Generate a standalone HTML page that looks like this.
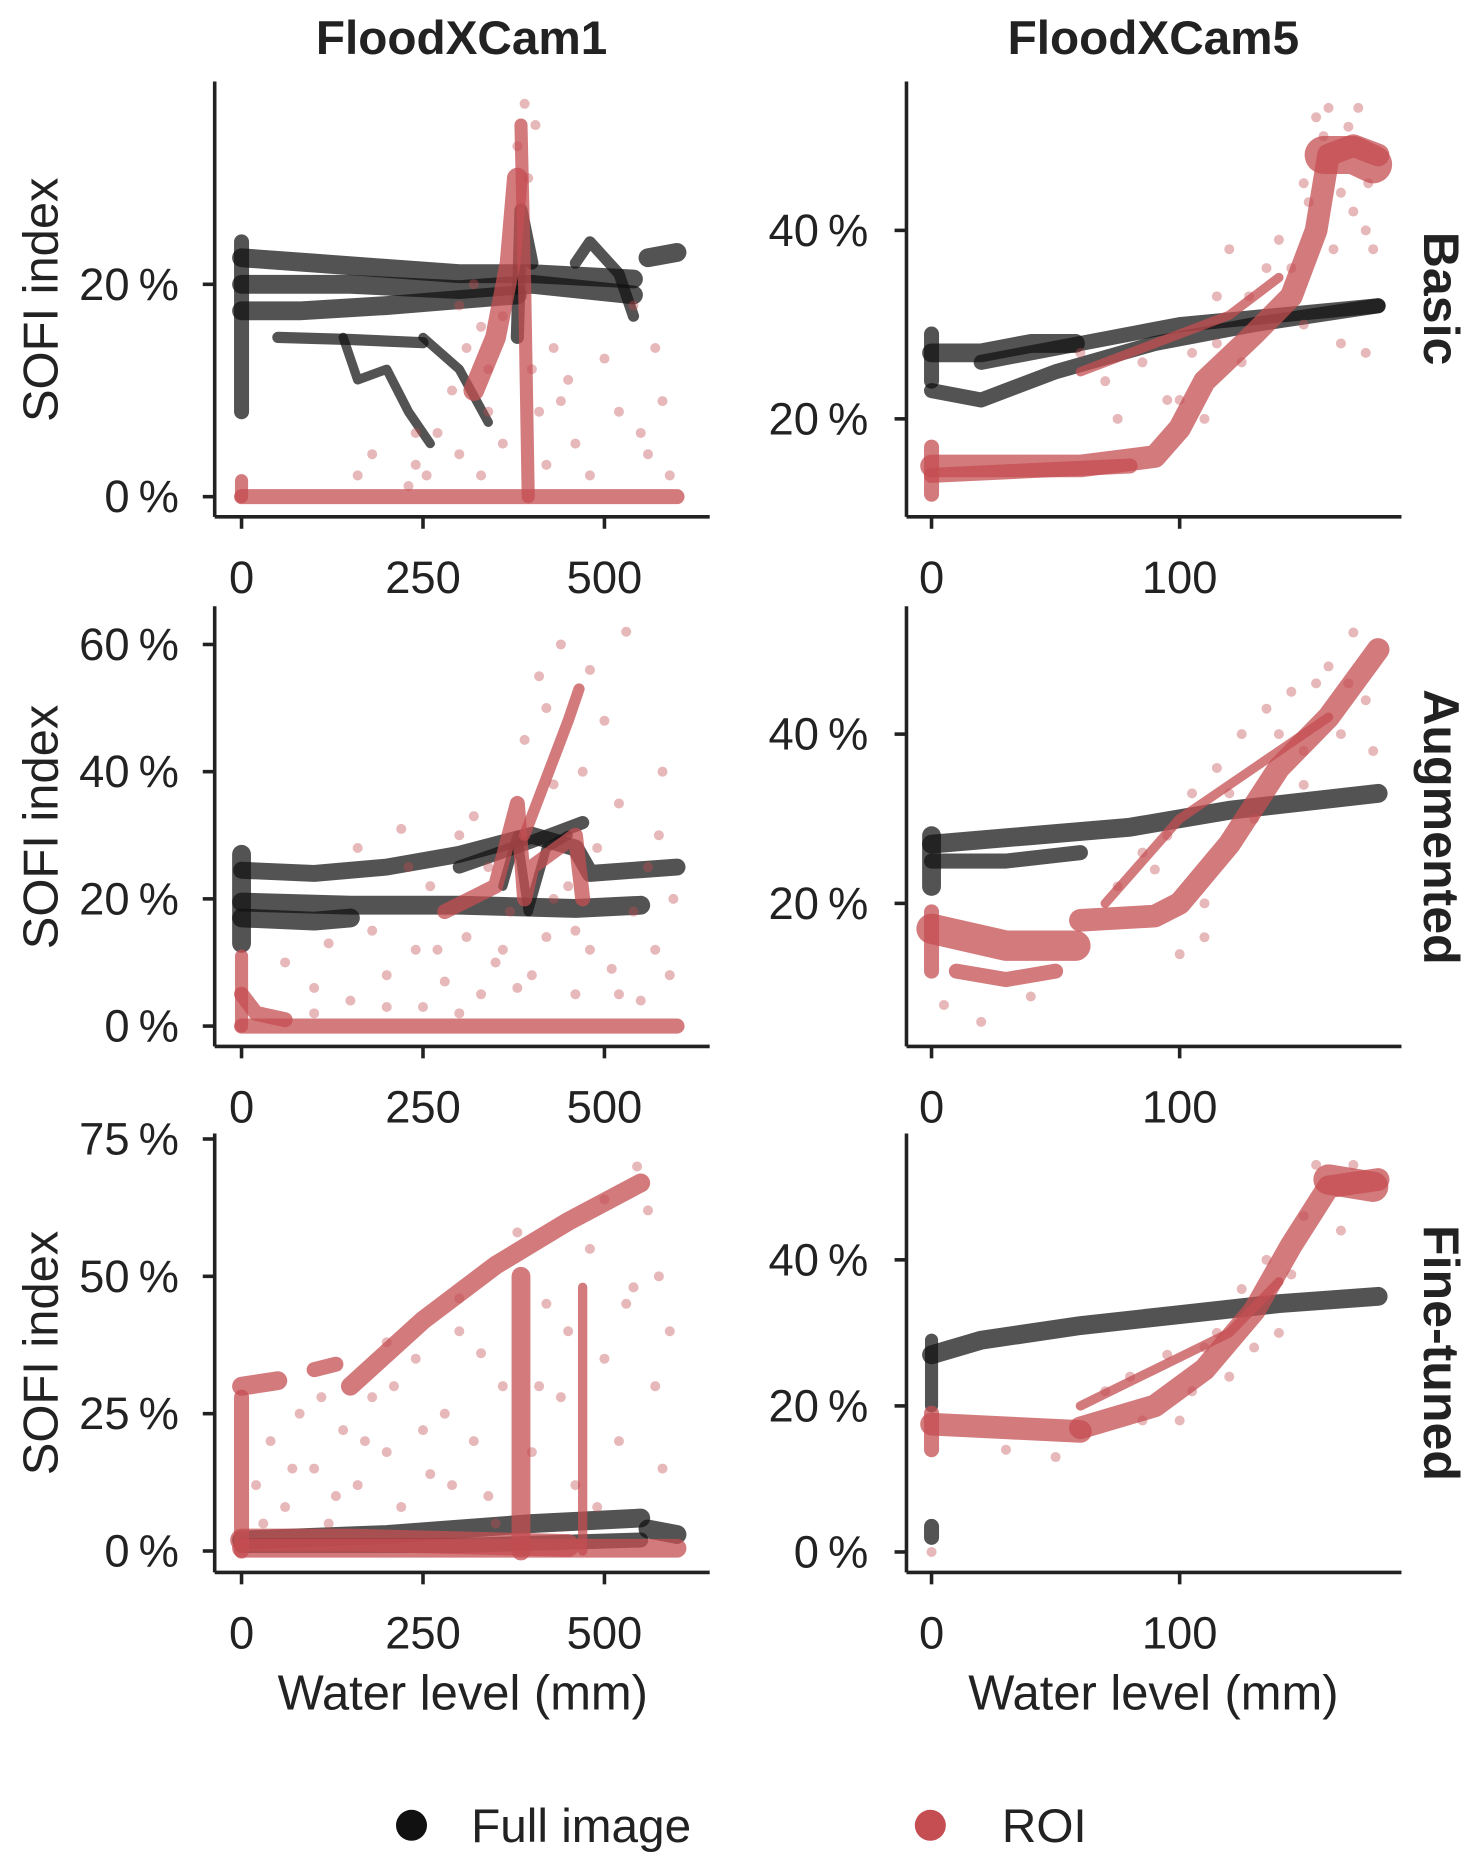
<!DOCTYPE html>
<html><head><meta charset="utf-8">
<style>
html,body{margin:0;padding:0;background:#fff;}
svg{display:block;}
text{font-family:"Liberation Sans",sans-serif;fill:#222;}
</style></head>
<body>
<svg id="chart" width="1479" height="1871" viewBox="0 0 1240 1568" xmlns="http://www.w3.org/2000/svg">
<g id="static">
<text x="387" y="45" font-size="40" font-weight="bold" text-anchor="middle">FloodXCam1</text>
<text x="967" y="45" font-size="40" font-weight="bold" text-anchor="middle">FloodXCam5</text>
<text transform="translate(1194,250) rotate(90)" font-size="42" font-weight="bold" text-anchor="middle">Basic</text>
<text transform="translate(1194,693) rotate(90)" font-size="42" font-weight="bold" text-anchor="middle">Augmented</text>
<text transform="translate(1194,1134) rotate(90)" font-size="42" font-weight="bold" text-anchor="middle">Fine-tuned</text>
<text transform="translate(48,251) rotate(-90)" font-size="41" text-anchor="middle">SOFI index</text>
<text transform="translate(48,693) rotate(-90)" font-size="41" text-anchor="middle">SOFI index</text>
<text transform="translate(48,1134) rotate(-90)" font-size="41" text-anchor="middle">SOFI index</text>
<text x="388" y="1433" font-size="41" text-anchor="middle">Water level (mm)</text>
<text x="967" y="1433" font-size="41" text-anchor="middle">Water level (mm)</text>
<g>
<circle cx="345" cy="1530" r="13" fill="#111"/>
<text x="395" y="1544" font-size="40">Full image</text>
<circle cx="780" cy="1530" r="13" fill="#c44e52"/>
<text x="840" y="1544" font-size="40">ROI</text>
</g>
</g>
</svg>
<script>
// ---- data (x: water level mm, y: SOFI %) ----
const cam1XTicks = [0, 250, 500];
const cam5XTicks = [0, 100];
const p1YTicks = [0, 20];
const p2YTicks = [20, 40];
const p3YTicks = [0, 20, 40, 60];
const p4YTicks = [20, 40];
const p5YTicks = [0, 25, 50, 75];
const p6YTicks = [0, 20, 40];

// bands: [series, strokeWidth, points]
const p1Bands = [
 ['full',6,[[0,8],[0,24]]],
 ['full',8,[[0,22.5],[100,22],[200,21.5],[300,21],[400,21],[540,20.5]]],
 ['full',8,[[0,20],[150,20],[300,19.5],[400,20],[540,19]]],
 ['full',8,[[0,17.5],[80,17.5],[200,18],[380,19]]],
 ['full',4,[[50,15],[150,14.8],[250,14.5]]],
 ['full',8,[[560,22.5],[600,23]]],
 ['full',3,[[140,15],[160,11],[200,12],[230,8],[260,5]]],
 ['full',3,[[250,15],[300,12],[340,7]]],
 ['full',5,[[380,15],[385,27],[400,22]]],
 ['full',4,[[460,22],[480,24],[520,21],[540,17]]],
 ['roi',6,[[0,0],[600,0]]],
 ['roi',5,[[0,1.5],[0,0]]],
 ['roi',5,[[385,35],[390,20],[395,0]]],
 ['roi',9,[[320,10],[350,15],[370,22],[380,30]]]
];
const p1Points = [[160,2],[180,4],[230,1],[240,3],[270,6],[290,10],[300,4],[310,14],[330,2],[340,8],[360,5],[400,12],[410,8],[420,3],[430,14],[440,9],[450,11],[460,5],[480,2],[500,13],[520,8],[540,18],[550,6],[560,4],[570,14],[580,9],[590,2],[390,37],[380,33],[300,18],[320,20],[340,12],[360,17],[395,30],[405,35],[240,6],[255,2],[330,16]];
const p2Bands = [
 ['full',6,[[0,24],[0,29]]],
 ['full',8,[[0,27],[20,27],[40,28],[58,28]]],
 ['full',6,[[0,23],[20,22],[50,25],[90,28],[130,30],[180,32]]],
 ['full',6,[[20,26],[60,28],[100,30],[140,31],[180,32]]],
 ['roi',6,[[0,12],[0,17]]],
 ['roi',10,[[0,15],[30,15],[60,15],[90,16],[100,19],[110,24],[130,29],[145,33],[155,40],[160,48],[170,49],[180,48]]],
 ['roi',6,[[0,14],[40,14.5],[80,15]]],
 ['roi',18,[[158,48],[170,48],[178,47]]],
 ['roi',3,[[60,25],[90,28],[120,31],[140,35]]]
];
const p2Points = [[150,45],[155,52],[160,53],[165,44],[170,42],[175,40],[178,38],[175,27],[165,28],[150,30],[140,39],[135,36],[120,38],[115,33],[105,27],[95,22],[85,26],[75,20],[70,24],[60,27],[115,28],[125,26],[145,36],[168,51],[172,53],[162,38],[110,20],[100,22],[128,33],[152,43],[158,50],[176,45]];
const p3Bands = [
 ['full',8,[[0,13],[0,27]]],
 ['full',7,[[0,24.5],[100,24],[200,25],[300,27],[400,30],[460,28],[480,24],[600,25]]],
 ['full',8,[[0,19.5],[150,19],[300,19],[460,18.5],[550,19]]],
 ['full',8,[[0,17],[100,16.5],[150,17]]],
 ['full',5,[[300,25],[400,29],[470,32]]],
 ['full',3,[[360,22],[380,30],[395,18],[420,28],[450,30]]],
 ['roi',6,[[0,0],[600,0]]],
 ['roi',5,[[0,11],[0,0]]],
 ['roi',6,[[0,5],[20,2],[60,1]]],
 ['roi',6,[[280,18],[350,22],[380,35],[390,20],[400,25],[460,30],[470,20]]],
 ['roi',4,[[390,30],[430,42],[450,48],[465,53]]]
];
const p3Points = [[60,10],[100,6],[120,13],[150,4],[180,15],[200,8],[220,31],[240,12],[250,3],[260,22],[280,7],[300,30],[310,14],[330,5],[340,25],[350,10],[370,18],[390,45],[400,8],[410,55],[420,14],[430,38],[440,60],[450,22],[460,5],[470,40],[480,12],[490,28],[500,48],[510,9],[520,35],[530,62],[540,18],[550,4],[560,25],[570,12],[580,40],[590,8],[595,20],[480,56],[420,50],[360,12],[160,28],[230,25],[270,12],[320,33],[380,6],[430,20],[460,15],[520,5],[575,30],[300,2],[200,3],[100,2]];
const p4Bands = [
 ['full',8,[[0,22],[0,28]]],
 ['full',8,[[0,27],[40,28],[80,29],[120,31],[180,33]]],
 ['full',6,[[0,25],[30,25],[60,26]]],
 ['roi',6,[[0,12],[0,19]]],
 ['roi',14,[[0,17],[30,15],[58,15]]],
 ['roi',6,[[10,12],[30,11],[50,12]]],
 ['roi',10,[[60,18],[90,18.5],[100,20],[120,27],[140,36],[160,42],[175,48],[180,50]]],
 ['roi',3,[[70,20],[100,30],[130,36],[160,42]]]
];
const p4Points = [[5,8],[20,6],[40,9],[75,22],[85,26],[95,28],[105,33],[110,20],[115,36],[125,40],[135,43],[145,45],[150,38],[155,46],[160,48],[165,40],[170,52],[175,44],[178,38],[110,16],[100,14],[130,30],[150,34],[90,24],[120,33],[140,40],[168,46]];
const p5Bands = [
 ['full',8,[[0,2],[200,3],[400,5],[550,6]]],
 ['full',6,[[0,1],[300,1],[550,2]]],
 ['full',8,[[560,4],[600,3]]],
 ['roi',8,[[0,0.5],[600,0.5]]],
 ['roi',6,[[0,0],[0,28]]],
 ['roi',8,[[0,30],[50,31]]],
 ['roi',6,[[100,33],[130,34]]],
 ['roi',8,[[150,30],[250,42],[350,52],[450,60],[550,67]]],
 ['roi',8,[[385,0],[385,50]]],
 ['roi',3,[[470,0],[470,48]]],
 ['roi',10,[[0,2],[150,2],[300,1.5],[450,1]]]
];
const p5Points = [[20,12],[40,20],[60,8],[80,25],[100,15],[120,5],[140,22],[160,12],[180,28],[200,18],[220,8],[240,35],[260,14],[280,25],[300,40],[320,20],[340,10],[360,30],[380,58],[400,18],[420,45],[440,28],[460,12],[480,55],[500,35],[520,20],[540,48],[560,62],[570,30],[580,15],[590,40],[545,70],[500,64],[200,38],[300,46],[30,5],[70,15],[110,28],[130,10],[170,20],[210,30],[250,22],[290,12],[330,36],[350,5],[410,30],[450,40],[490,8],[530,45],[575,50]];
const p6Bands = [
 ['full',5,[[0,20],[0,29]]],
 ['full',8,[[0,27],[20,29],[60,31],[100,32.5],[140,34],[180,35]]],
 ['full',6,[[0,2],[0,3.5]]],
 ['roi',6,[[0,14],[0,19]]],
 ['roi',10,[[0,17.5],[30,17],[60,16.5]]],
 ['roi',10,[[60,17],[90,20],[110,25],[130,33],[145,42],[160,50],[180,51]]],
 ['roi',3,[[60,20],[90,25],[120,30],[140,37]]],
 ['roi',14,[[160,51],[178,50]]]
];
const p6Points = [[0,0],[30,14],[50,13],[70,22],[80,24],[95,27],[105,22],[115,30],[125,36],[135,40],[140,30],[150,46],[155,53],[165,44],[170,53],[100,18],[120,24],[110,28],[130,28],[145,38],[85,18]];

const RED='#c44e52', BLK='#111';
const svg=document.getElementById('chart');
const NS='http://www.w3.org/2000/svg';
function mk(tag,attrs){const e=document.createElementNS(NS,tag);for(const k in attrs)e.setAttribute(k,attrs[k]);return e;}

const colL={x0:180,x1:595,dom:[-37,645],xticks:cam1XTicks,labX:150};
const colR={x0:760,x1:1175,dom:[-10.1,189.4],xticks:cam5XTicks,labX:728};
const rows=[{y0:68,y1:433},{y0:508,y1:877},{y0:950,y1:1318}];
const panels=[
 {name:'cam1-basic',col:colL,row:rows[0],ydom:[-1.9,39.1],yt:p1YTicks,bands:p1Bands,pts:p1Points},
 {name:'cam5-basic',col:colR,row:rows[0],ydom:[9.6,55.8],yt:p2YTicks,bands:p2Bands,pts:p2Points},
 {name:'cam1-augmented',col:colL,row:rows[1],ydom:[-3.2,66],yt:p3YTicks,bands:p3Bands,pts:p3Points},
 {name:'cam5-augmented',col:colR,row:rows[1],ydom:[3.1,55.1],yt:p4YTicks,bands:p4Bands,pts:p4Points},
 {name:'cam1-fine-tuned',col:colL,row:rows[2],ydom:[-3.9,76],yt:p5YTicks,bands:p5Bands,pts:p5Points},
 {name:'cam5-fine-tuned',col:colR,row:rows[2],ydom:[-2.8,57.3],yt:p6YTicks,bands:p6Bands,pts:p6Points}
];
panels.forEach(p=>{
 const c=p.col,r=p.row;
 const xs=v=>c.x0+(v-c.dom[0])/(c.dom[1]-c.dom[0])*(c.x1-c.x0);
 const ys=v=>r.y1-(v-p.ydom[0])/(p.ydom[1]-p.ydom[0])*(r.y1-r.y0);
 const g=mk('g',{});
 
 
 svg.appendChild(g);
 const data=mk('g',{});
 
 
 g.appendChild(data);
 ['full','roi'].forEach(s=>{
  p.bands.filter(b=>b[0]===s).forEach(b=>{
   const pl=mk('polyline',{points:b[2].map(q=>xs(q[0])+','+ys(q[1])).join(' '),fill:'none',stroke:s==='full'?BLK:RED,'stroke-width':b[1]*1.6+3,'stroke-opacity':s==='full'?0.72:0.75,'stroke-linecap':'round','stroke-linejoin':'round'});
   
   
   data.appendChild(pl);
  });
 });
 p.pts.forEach(q=>{
  const ci=mk('circle',{cx:xs(q[0]),cy:ys(q[1]),r:4.2,fill:RED,'fill-opacity':0.4});
  
  
  data.appendChild(ci);
 });
 const ax=mk('g',{stroke:'#222','stroke-width':3,fill:'none'});
 
 
 g.appendChild(ax);
 ax.appendChild(mk('line',{x1:c.x0,y1:r.y0,x2:c.x0,y2:r.y1}));
 ax.appendChild(mk('line',{x1:c.x0,y1:r.y1,x2:c.x1,y2:r.y1}));
 c.xticks.forEach(t=>{
  const x=xs(t);
  ax.appendChild(mk('line',{x1:x,y1:r.y1,x2:x,y2:r.y1+10}));
  const tx=mk('text',{x:x,y:r.y1+64,'font-size':38,'text-anchor':'middle',stroke:'none'});
  tx.textContent=t;
  
  
  g.appendChild(tx);
 });
 p.yt.forEach(t=>{
  const y=ys(t);
  ax.appendChild(mk('line',{x1:c.x0,y1:y,x2:c.x0-10,y2:y}));
  const tx=mk('text',{x:c.labX,y:y+13,'font-size':38,'text-anchor':'end',stroke:'none'});
  tx.textContent=t+'\u2009%';
  
  
  g.appendChild(tx);
 });
});
</script>
</body></html>
